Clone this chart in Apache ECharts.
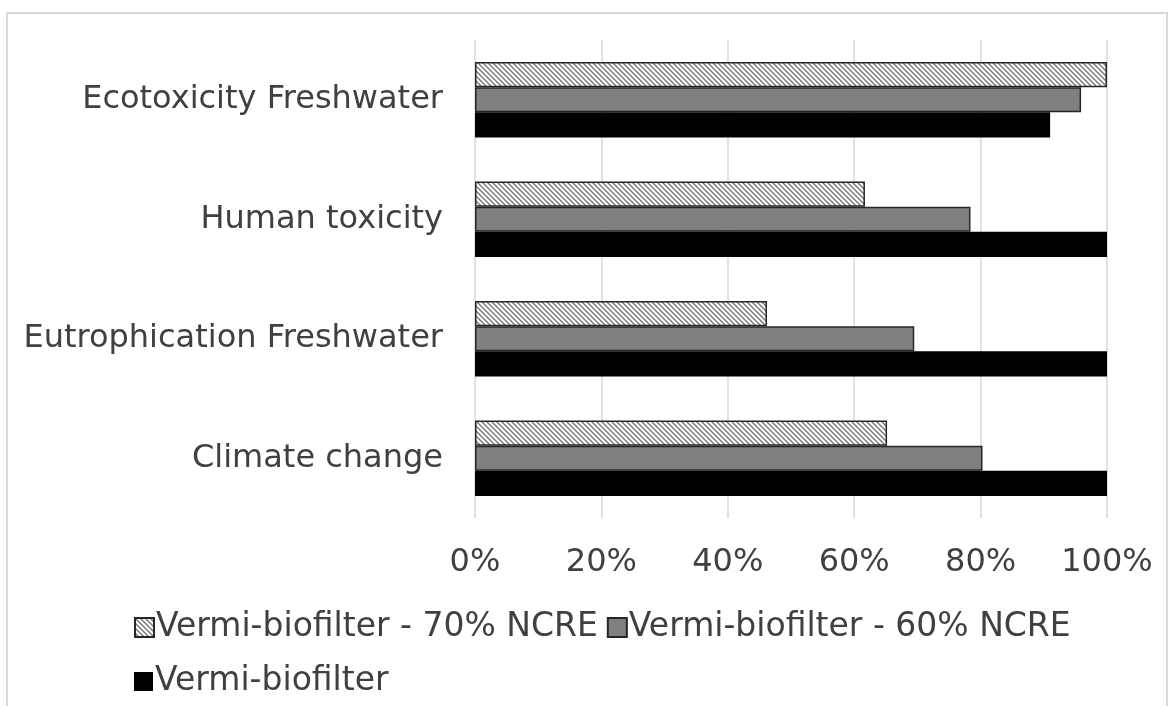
<!DOCTYPE html>
<html>
<head>
<meta charset="utf-8">
<script src="https://cdn.jsdelivr.net/npm/echarts@6/dist/echarts.min.js"></script>
<style>
  html, body { margin: 0; padding: 0; background: #fff; }
  #frame { position: absolute; left: 6px; top: 12px; width: 1162px; height: 720px; border: 2px solid #d9d9d9; box-sizing: border-box; }
  #myChart { position: absolute; left: 0; top: 0; width: 1175px; height: 706px; }
</style>
</head>
<body>
<div id="frame"></div>
<div id="myChart"></div>
<script>
// categories, bottom to top as on the axis
var categories = ['Climate change', 'Eutrophication Freshwater', 'Human toxicity', 'Ecotoxicity Freshwater'];
var seriesNames = ['Vermi-biofilter - 70% NCRE', 'Vermi-biofilter - 60% NCRE', 'Vermi-biofilter'];
var ncre70 = [65.2, 46.2, 61.7, 100];
var ncre60 = [80.3, 69.5, 78.4, 95.9];
var vermi = [100, 100, 100, 91.0];
var xTicks = [0, 20, 40, 60, 80, 100];

// diagonal hatch for the 70% series
function hatch() {
  var s = 5;
  var c = document.createElement('canvas');
  c.width = s; c.height = s;
  var ctx = c.getContext('2d');
  ctx.fillStyle = '#fff';
  ctx.fillRect(0, 0, s, s);
  ctx.strokeStyle = '#777';
  ctx.lineWidth = 1.4;
  for (var k = -s; k <= s; k += s) {
    ctx.beginPath();
    ctx.moveTo(k - 1, -1);
    ctx.lineTo(k + s + 1, s + 1);
    ctx.stroke();
  }
  return c;
}

var txt = '#404040';
var font = 'DejaVu Sans';
var chart = echarts.init(document.getElementById('myChart'));
chart.setOption({
  animation: false,
  textStyle: { fontFamily: font },
  grid: { left: 475, right: 68, top: 40, bottom: 188, containLabel: false },
  legend: [{
    data: [seriesNames[0], seriesNames[1]],
    left: 129, top: 606, icon: 'rect',
    itemWidth: 19, itemHeight: 19, itemGap: 9,
    textStyle: { fontSize: 33, color: txt, fontFamily: font, padding: [0, 0, 0, -3] }
  }, {
    data: [seriesNames[2]],
    left: 129, top: 660, icon: 'rect',
    itemWidth: 19, itemHeight: 19,
    textStyle: { fontSize: 33, color: txt, fontFamily: font, padding: [0, 0, 0, -3] }
  }],
  xAxis: {
    type: 'value',
    min: xTicks[0], max: xTicks[xTicks.length - 1], interval: 20,
    axisLine: { show: false },
    axisTick: { show: false },
    splitLine: { show: true, lineStyle: { color: '#d9d9d9', width: 1.5 } },
    axisLabel: { fontSize: 32, color: txt, margin: 29, formatter: '{value}%' }
  },
  yAxis: {
    type: 'category',
    data: categories,
    axisLine: { show: false },
    axisTick: { show: false },
    axisLabel: { fontSize: 32, color: txt, margin: 32 }
  },
  series: [{
    name: seriesNames[0], type: 'bar', data: ncre70,
    barGap: '0%', barCategoryGap: '37%',
    itemStyle: { color: { image: hatch(), repeat: 'repeat' }, borderColor: '#262626', borderWidth: 1.5 }
  }, {
    name: seriesNames[1], type: 'bar', data: ncre60,
    barGap: '0%', barCategoryGap: '37%',
    itemStyle: { color: '#808080', borderColor: '#262626', borderWidth: 1.5 }
  }, {
    name: seriesNames[2], type: 'bar', data: vermi,
    barGap: '0%', barCategoryGap: '37%',
    itemStyle: { color: '#000000' }
  }]
});
</script>
</body>
</html>
